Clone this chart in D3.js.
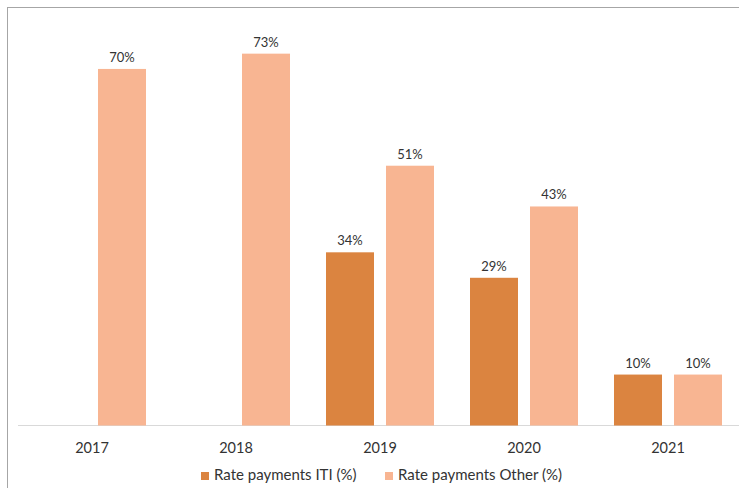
<!DOCTYPE html>
<html>
<head>
<meta charset="utf-8">
<script src="https://cdn.jsdelivr.net/npm/d3@7"></script>
<style>
  html, body { margin: 0; padding: 0; background: #fff; }
  svg { display: block; font-family: Lato, "Open Sans", sans-serif; }
</style>
</head>
<body>
<svg id="chart" width="739" height="488"></svg>
<script>
// Payment rates by year, split by payment type
const years = ["2017", "2018", "2019", "2020", "2021"];
const seriesKeys = ["ITI", "Other"];
const seriesNames = ["Rate payments ITI (%)", "Rate payments Other (%)"];
const ratesITI = [null, null, 34, 29, 10];
const ratesOther = [70, 73, 51, 43, 10];
const seriesColors = ["#DB8440", "#F8B592"];

const svg = d3.select("#chart");
const W = 739, H = 488;
const textColor = "#333333";

// outer frame
svg.append("rect")
  .attr("x", 7.5).attr("y", 7.5)
  .attr("width", W + 10).attr("height", H + 10)
  .attr("fill", "#fff").attr("stroke", "#a6a6a6").attr("stroke-width", 1);

const baseY = 425.5;
const x = d3.scaleBand().domain(years).range([20, 740]).paddingInner(0).paddingOuter(0);
const xs = d3.scaleBand().domain(seriesKeys).range([0, x.bandwidth()]).paddingInner(0.2).paddingOuter(0.3);
const y = d3.scaleLinear().domain([0, 80]).range([baseY, 18]);

const rows = [];
years.forEach((yr, i) => {
  [ratesITI, ratesOther].forEach((arr, k) => {
    if (arr[i] != null) rows.push({ year: yr, key: seriesKeys[k], value: arr[i], color: seriesColors[k] });
  });
});

// baseline
svg.append("line")
  .attr("x1", 18).attr("x2", W).attr("y1", baseY).attr("y2", baseY)
  .attr("stroke", "#d9d9d9").attr("stroke-width", 1);

const g = svg.append("g");
g.selectAll("rect.bar").data(rows).join("rect")
  .attr("class", "bar")
  .attr("x", d => x(d.year) + xs(d.key))
  .attr("width", xs.bandwidth())
  .attr("y", d => y(d.value))
  .attr("height", d => y(0) - y(d.value))
  .attr("fill", d => d.color);

g.selectAll("text.val").data(rows).join("text")
  .attr("class", "val")
  .attr("x", d => x(d.year) + xs(d.key) + xs.bandwidth() / 2)
  .attr("y", d => y(d.value) - 7)
  .attr("text-anchor", "middle")
  .attr("font-size", 13)
  .attr("fill", textColor)
  .text(d => d.value + "%");

// category axis
const axis = svg.append("g")
  .attr("transform", `translate(0,${baseY})`)
  .call(d3.axisBottom(x).tickSize(0).tickPadding(0));
axis.select(".domain").remove();
axis.selectAll("text")
  .attr("dy", null)
  .attr("y", 27)
  .attr("font-family", "Lato, 'Open Sans', sans-serif")
  .attr("font-size", 14.5)
  .attr("fill", textColor);

// legend
const legendX = [201, 385];
const legend = svg.append("g");
seriesNames.forEach((name, k) => {
  legend.append("rect")
    .attr("x", legendX[k]).attr("y", 472)
    .attr("width", 8).attr("height", 8)
    .attr("fill", seriesColors[k]);
  legend.append("text")
    .attr("x", legendX[k] + 13).attr("y", 480)
    .attr("font-size", 15)
    .attr("fill", textColor)
    .text(name);
});
</script>
</body>
</html>
